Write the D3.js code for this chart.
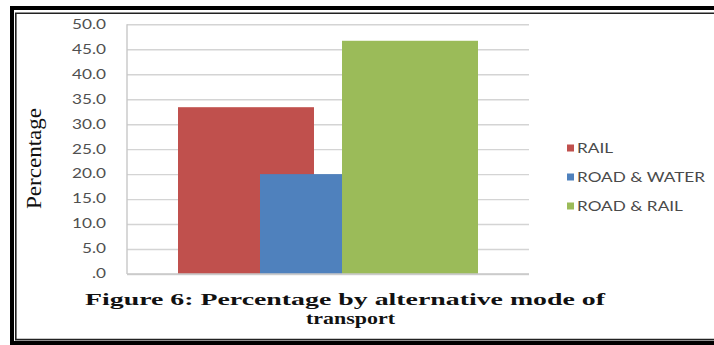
<!DOCTYPE html>
<html>
<head>
<meta charset="utf-8">
<script src="https://cdn.jsdelivr.net/npm/d3@7"></script>
<style>
  html, body { margin: 0; padding: 0; background: #fff; }
  svg { display: block; }
</style>
</head>
<body>
<svg id="chart" width="714" height="345"></svg>
<script>
// Share of respondents by alternative mode of transport
const categories = ["RAIL", "ROAD & WATER", "ROAD & RAIL"];
const values = [33.4, 20.0, 46.7];
const colors = ["#C0504D", "#4F81BD", "#9BBB59"];
const yTicks = [0, 5, 10, 15, 20, 25, 30, 35, 40, 45, 50];
const yTitle = "Percentage";
const captionLines = ["Figure 6: Percentage by alternative mode of", "transport"];

const svg = d3.select("#chart");

// Double frame: heavy outer rule with a thin inner rule
const frame = svg.append("g");
frame.append("path")
  .attr("d", "M714,8 H12 V343 H714")
  .attr("fill", "none").attr("stroke", "#000").attr("stroke-width", 4);
frame.append("path")
  .attr("d", "M714,13.2 H15.8 V339.6 H714")
  .attr("fill", "none").attr("stroke", "#222").attr("stroke-width", 1.6);

// Plot area
const plot = { left: 127, right: 529, top: 24.3, bottom: 274 };

const y = d3.scaleLinear().domain([0, 50]).range([plot.bottom, plot.top]);

// One category cluster; series overlap within it
const cluster = d3.scaleBand().domain(["all"]).range([plot.left, plot.right])
  .paddingInner(0).paddingOuter(0.17);
const barWidth = cluster.bandwidth() * 0.4533;
const xs = d3.scalePoint().domain(categories)
  .range([cluster("all"), cluster("all") + cluster.bandwidth() - barWidth]);

// Gridlines
svg.append("g")
  .attr("transform", `translate(${plot.left},0)`)
  .call(d3.axisLeft(y).tickValues(yTicks).tickSize(-(plot.right - plot.left)).tickFormat(""))
  .call(g => g.select(".domain").remove())
  .call(g => g.selectAll(".tick line").attr("stroke", "#d4d4d4").attr("stroke-width", 1.4));

// Bars (later series drawn on top)
svg.append("g").selectAll("rect")
  .data(categories)
  .join("rect")
  .attr("x", d => xs(d))
  .attr("width", barWidth)
  .attr("y", (d, i) => y(values[i]))
  .attr("height", (d, i) => y(0) - y(values[i]))
  .attr("fill", (d, i) => colors[i]);

// Value axis line and category baseline
svg.append("line")
  .attr("x1", plot.left).attr("x2", plot.left)
  .attr("y1", plot.top).attr("y2", plot.bottom)
  .attr("stroke", "#c8c8c8").attr("stroke-width", 1.4);
svg.append("line")
  .attr("x1", plot.left).attr("x2", plot.right)
  .attr("y1", plot.bottom).attr("y2", plot.bottom)
  .attr("stroke", "#c8c8c8").attr("stroke-width", 1.4);

// Widen text horizontally to the given stretch factor
function stretch(sel, factor) {
  sel.each(function () {
    const len = this.getComputedTextLength();
    d3.select(this).attr("textLength", len * factor).attr("lengthAdjust", "spacingAndGlyphs");
  });
}

// Tick labels
const fmt = v => v === 0 ? ".0" : v.toFixed(1);
const tickLabels = svg.append("g").selectAll("text")
  .data(yTicks)
  .join("text")
  .attr("x", 106)
  .attr("y", d => y(d))
  .attr("dy", "0.35em")
  .attr("text-anchor", "end")
  .attr("font-family", "Lato, 'Open Sans', sans-serif")
  .attr("font-size", 12.5)
  .attr("fill", "#505050")
  .text(fmt);
{
  const ref = tickLabels.filter(d => d === 50).node().getComputedTextLength();
  stretch(tickLabels, 34 / ref);
}

// Value axis title
svg.append("text")
  .attr("transform", "translate(41,158.5) rotate(-90)")
  .attr("text-anchor", "middle")
  .attr("font-family", "'Liberation Serif', 'Times New Roman', serif")
  .attr("font-size", 20)
  .attr("fill", "#111")
  .attr("textLength", 101)
  .attr("lengthAdjust", "spacingAndGlyphs")
  .text(yTitle);

// Legend
const legend = svg.append("g").selectAll("g")
  .data(categories)
  .join("g")
  .attr("transform", (d, i) => `translate(567,${148 + i * 29})`);
legend.append("rect")
  .attr("x", 0).attr("y", -3.5).attr("width", 7).attr("height", 7)
  .attr("fill", (d, i) => colors[i]);
const legendText = legend.append("text")
  .attr("x", 10)
  .attr("dy", "0.36em")
  .attr("font-family", "Lato, 'Open Sans', sans-serif")
  .attr("font-size", 13.5)
  .attr("fill", "#4a4a4a")
  .text(d => d);
{
  const ref = legendText.filter(d => d === "ROAD & WATER").node().getComputedTextLength();
  stretch(legendText, 128 / ref);
}

// Caption
const capWidths = [520, 89];
const capCenters = [345, 350.5];
const capBaselines = [305, 324];
svg.append("g").selectAll("text")
  .data(captionLines)
  .join("text")
  .attr("x", (d, i) => capCenters[i])
  .attr("y", (d, i) => capBaselines[i])
  .attr("text-anchor", "middle")
  .attr("font-family", "'Liberation Serif', 'Times New Roman', serif")
  .attr("font-weight", "bold")
  .attr("font-size", 17.5)
  .attr("fill", "#111")
  .attr("textLength", (d, i) => capWidths[i])
  .attr("lengthAdjust", "spacingAndGlyphs")
  .text(d => d);
</script>
</body>
</html>
